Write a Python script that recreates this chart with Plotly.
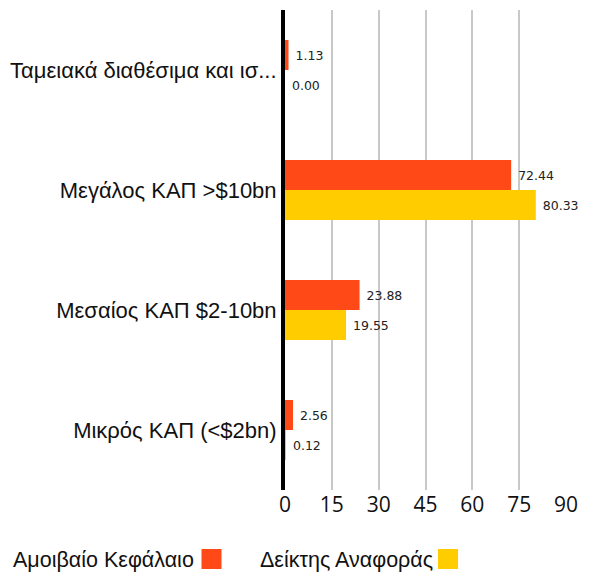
import plotly.graph_objects as go

categories = ["Ταμειακά διαθέσιμα και ισ...", "Μεγάλος ΚΑΠ >$10bn", "Μεσαίος ΚΑΠ $2-10bn", "Μικρός ΚΑΠ (<$2bn)"]
fund_name = "Αμοιβαίο Κεφάλαιο"
bench_name = "Δείκτης Αναφοράς"
fund_values = [1.13, 72.44, 23.88, 2.56]
bench_values = [0.00, 80.33, 19.55, 0.12]
x_ticks = [0, 15, 30, 45, 60, 75, 90]

ORANGE = "#FF4A17"
YELLOW = "#FFCC00"

# page body margin offsets the figure by 8px; layout values are given in figure coordinates
L, R, T, B = 277, 37, 2, 92
W, H = 595, 574
PW = W - L - R
PH = H - T - B

fig = go.Figure()
for name, vals, col in [(fund_name, fund_values, ORANGE), (bench_name, bench_values, YELLOW)]:
    fig.add_trace(go.Bar(
        y=categories, x=vals, name=name, orientation="h",
        marker=dict(color=col, line=dict(width=0)),
        text=[f" {v:.2f}" for v in vals], textposition="outside",
        textfont=dict(family="DejaVu Sans", size=12.5, color="#222"),
        cliponaxis=False, showlegend=False,
    ))

fig.update_layout(
    width=W, height=H,
    margin=dict(l=L, r=R, t=T, b=B, autoexpand=False),
    paper_bgcolor="white", plot_bgcolor="white",
    barmode="group", bargap=0.5, bargroupgap=0,
    xaxis=dict(range=[0, 90], tickvals=x_ticks, showgrid=True, gridcolor="#c8c8c8", gridwidth=2,
               zeroline=False, ticks="", automargin=False,
               tickfont=dict(family="Open Sans", size=21, color="#111")),
    yaxis=dict(autorange="reversed", showline=True, linecolor="black", linewidth=4, ticks="", ticklen=0,
               showgrid=False, ticklabelstandoff=0, automargin=False,
               tickfont=dict(family="Liberation Sans", size=22, color="#111")),
)

def px_x(p):
    return (p - 8 - L) / PW

def px_y(p):
    return (H - B - (p - 8)) / PH

legend_items = [(fund_name, ORANGE, 11, 201.5), (bench_name, YELLOW, 258, 438)]
for name, col, tx, sx in legend_items:
    fig.add_annotation(xref="paper", yref="paper", x=px_x(tx), y=px_y(560), xanchor="left", yanchor="middle",
                       text=name, showarrow=False, font=dict(family="Liberation Sans", size=21.5, color="#111"))
    fig.add_shape(type="rect", xref="paper", yref="paper", x0=px_x(sx), x1=px_x(sx + 20),
                  y0=px_y(569), y1=px_y(549), fillcolor=col, line=dict(width=0))

fig.write_html("out.html")
